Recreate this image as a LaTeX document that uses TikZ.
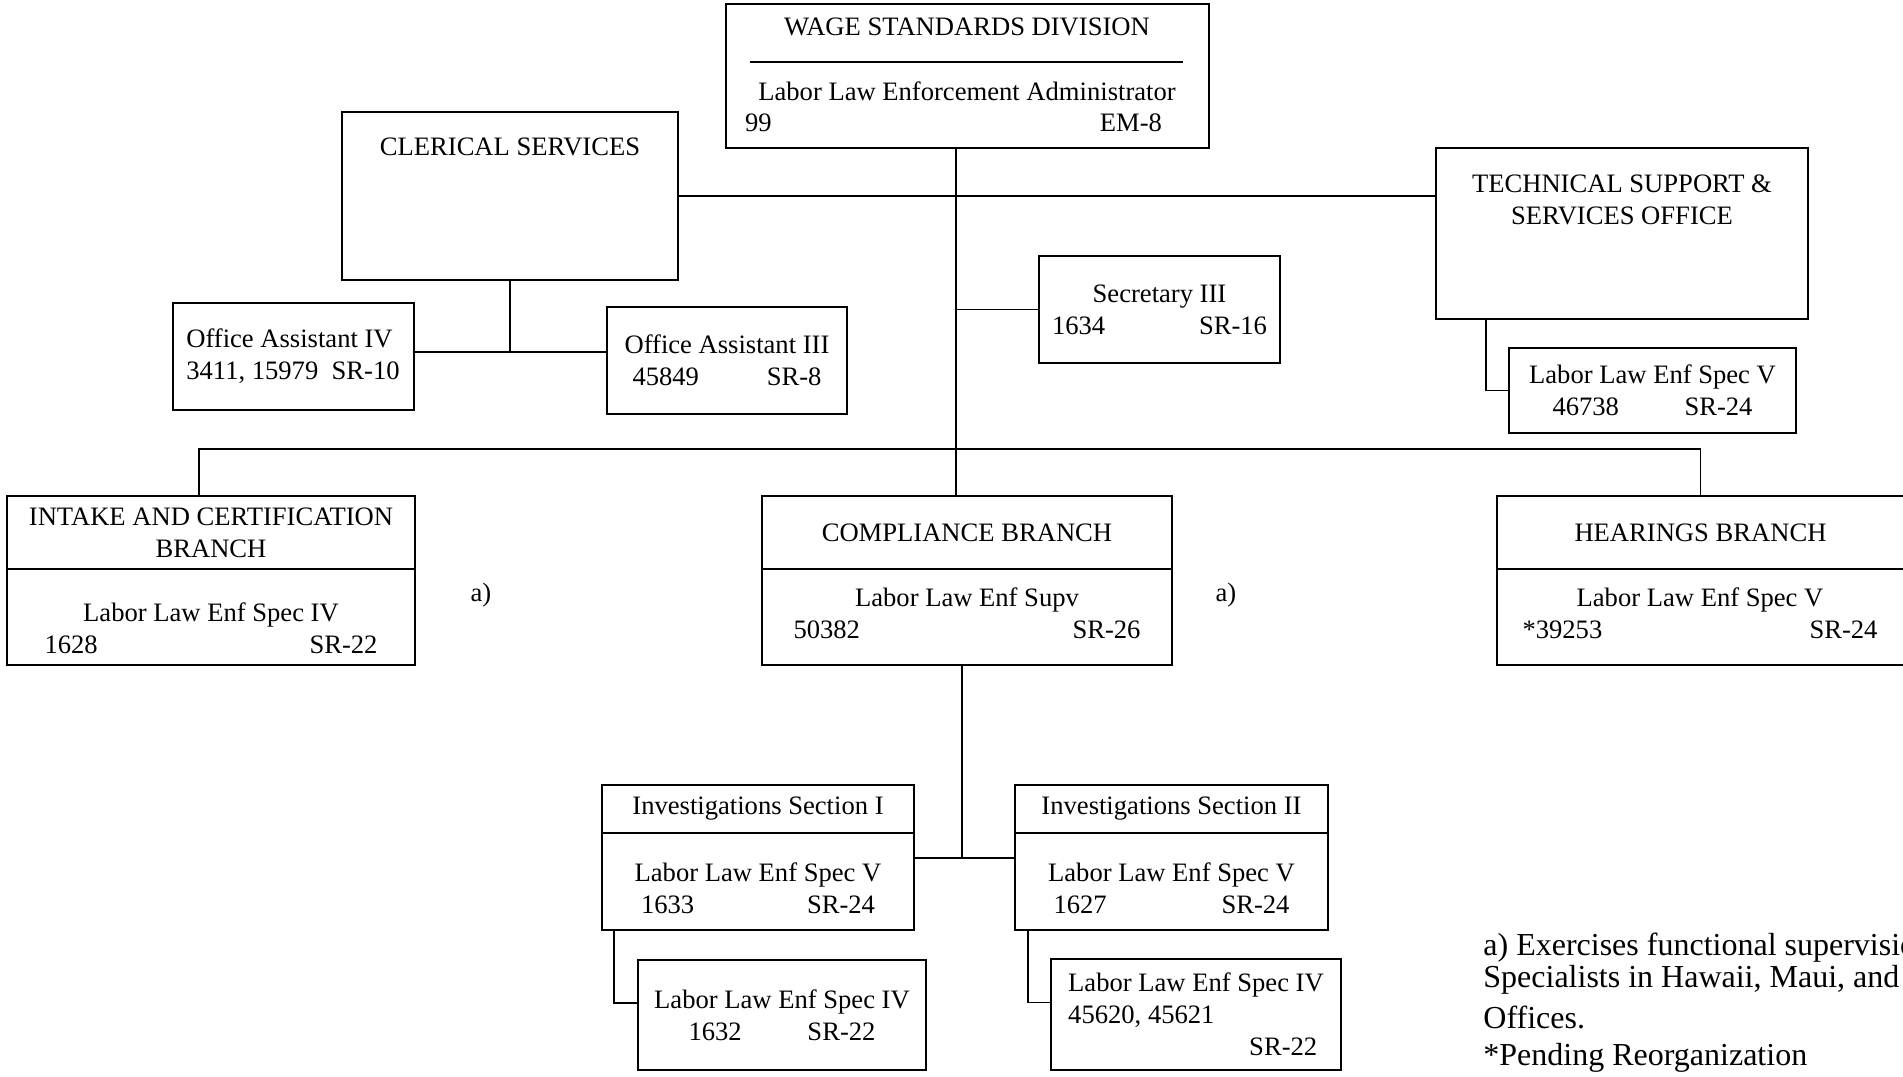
\documentclass[tikz,border=0pt]{standalone}
\usepackage{fontspec}
\setmainfont{Liberation Serif}
\usetikzlibrary{positioning}
\newcommand{\posgrade}[3]{\makebox[#1]{#2\hfill #3}}

\begin{document}
\begin{tikzpicture}[x=0.5pt,y=0.5pt]
\tikzset{every node/.style={font=\fontsize{13.3}{16}\selectfont},
  box/.style={draw,line width=1pt,inner sep=0pt,outer sep=0pt,align=center},
  txt/.style={inner sep=0pt,align=center},
  link/.style={line width=0.65pt},
  note/.style={inner sep=0pt,align=left,anchor=north west,font=\fontsize{16}{16}\selectfont}}
\useasboundingbox (0,0) rectangle (1903,-1077);
\node[box,minimum width=241.5pt,minimum height=72pt] (wage) at (967.5,-76) {};
\node[txt] (wagetitle) at (967,-27) {WAGE STANDARDS DIVISION};
\node[txt] (wagepost) at (967,-91) {Labor Law Enforcement Administrator};
\node[txt] (wagenum) at (953.5,-123) {\posgrade{208.5pt}{99}{EM-8}};
\draw[link] (750,-62) -- (1183,-62);
\node[box,minimum width=168pt,minimum height=84pt] (clerical) at (510,-196) {};
\node[txt] (clericaltitle) at (510,-147) {CLERICAL SERVICES};
\node[box,align=left,minimum width=120.5pt,minimum height=53.5pt] (oafour) at (293,-356.5) {Office Assistant IV\\3411, 15979\ \ SR-10};
\node[box,minimum width=120pt,minimum height=53.5pt] (oathree) at (727,-360.5) {Office Assistant III\\\posgrade{94.5pt}{45849}{SR-8}};
\node[box,minimum width=120.5pt,minimum height=53.5pt] (secretary) at (1159.5,-309.5) {Secretary III\\\posgrade{107.5pt}{1634}{SR-16}};
\node[box,minimum width=186pt,minimum height=85.5pt] (technical) at (1622,-233.5) {};
\node[txt] (technicaltitle) at (1622,-200) {TECHNICAL SUPPORT \&\\SERVICES OFFICE};
\node[box,minimum width=143.5pt,minimum height=42.5pt] (techspec) at (1652.5,-390.5) {Labor Law Enf Spec V\\\posgrade{100pt}{46738}{SR-24}};
\node[box,minimum width=204pt,minimum height=36.5pt] (intake) at (211,-532.5) {INTAKE AND CERTIFICATION\\BRANCH};
\node[box,minimum width=204pt,minimum height=48pt,below=0pt of intake] (intakebody) {};
\node[txt] (intakepost) at (211,-628.5) {Labor Law Enf Spec IV\\\posgrade{166.5pt}{1628}{SR-22}};
\node[txt] (noteleft) at (481,-595) {a)};
\node[box,minimum width=205pt,minimum height=36.5pt] (compliance) at (967,-532.5) {COMPLIANCE BRANCH};
\node[box,minimum width=205pt,minimum height=48pt,below=0pt of compliance] (compliancebody) {};
\node[txt] (compliancepost) at (967,-613) {Labor Law Enf Supv\\\posgrade{173.5pt}{50382}{SR-26}};
\node[txt] (noteright) at (1226,-595) {a)};
\node[box,minimum width=204pt,minimum height=36.5pt] (hearings) at (1700.5,-532.5) {HEARINGS BRANCH};
\node[box,minimum width=204pt,minimum height=48pt,below=0pt of hearings] (hearingsbody) {};
\node[txt] (hearingspost) at (1700,-613) {Labor Law Enf Spec V\\\posgrade{177.5pt}{*39253}{SR-24}};
\node[box,minimum width=156pt,minimum height=24pt] (sectone) at (758,-809) {Investigations Section I};
\node[box,minimum width=156pt,minimum height=48.5pt,below=0pt of sectone] (sectonebody) {};
\node[txt] (sectonepost) at (758,-888.5) {Labor Law Enf Spec V\\\posgrade{117pt}{1633}{SR-24}};
\node[box,minimum width=156.5pt,minimum height=24pt] (secttwo) at (1171.5,-809) {Investigations Section II};
\node[box,minimum width=156.5pt,minimum height=48.5pt,below=0pt of secttwo] (secttwobody) {};
\node[txt] (secttwopost) at (1171.5,-888.5) {Labor Law Enf Spec V\\\posgrade{118pt}{1627}{SR-24}};
\node[box,minimum width=144pt,minimum height=55pt] (sectonespec) at (782,-1015) {Labor Law Enf Spec IV\\\posgrade{93.5pt}{1632}{SR-22}};
\node[box,align=left,minimum width=145pt,minimum height=55.5pt] (secttwospec) at (1196,-1014.5) {Labor Law Enf Spec IV\\45620, 45621\\\makebox[124.5pt][r]{SR-22}};
\node[note] (footnote) at (1483,-933) {a) Exercises functional supervision\\Specialists in Hawaii, Maui, and Kauai\\[4.5pt]Offices.\\[2.5pt]*Pending Reorganization};
\coordinate (trunk) at (956,-449);
\coordinate (busleft) at (199,-449);
\coordinate (clerjoin) at (510,-352);
\coordinate (sectjoin) at (962,-858);
\draw[link] (wage.south -| trunk) -- (compliance.north -| trunk);
\draw[link] (clerical.east) -- (clerical.east -| technical.west);
\draw[link] (secretary.west -| trunk) -- (secretary.west);
\draw[link] (intake.north -| busleft) -- (busleft) -- (busleft -| hearings.north) -- (hearings.north);
\draw[link] (clerical.south) -- (clerjoin);
\draw[link] (oafour.east |- clerjoin) -- (oathree.west |- clerjoin);
\draw[link] (techspec.west) -| ([xshift=-11.5pt]techspec.west |- technical.south);
\draw[link] (compliancebody.south -| sectjoin) -- (sectjoin);
\draw[link] (sectonebody.east |- sectjoin) -- (secttwobody.west |- sectjoin);
\draw[link] ([xshift=6pt]sectonebody.south west) |- ([yshift=6pt]sectonespec.west);
\draw[link] ([xshift=6.5pt]secttwobody.south west) |- ([yshift=6pt]secttwospec.west);
\end{tikzpicture}
\end{document}
